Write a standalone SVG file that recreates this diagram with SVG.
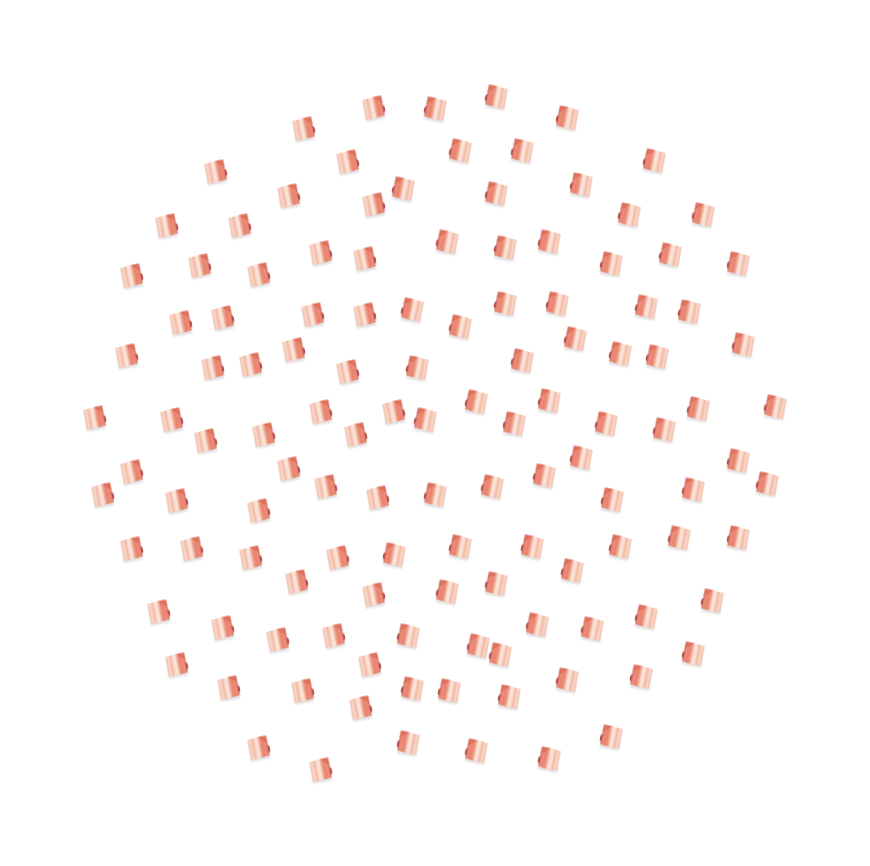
<svg xmlns="http://www.w3.org/2000/svg" width="870" height="866" viewBox="0 0 870 866">
<defs>
<filter id="s" x="-30%" y="-30%" width="160%" height="160%"><feGaussianBlur stdDeviation="1.2"/></filter>
<filter id="t" x="-20%" y="-20%" width="140%" height="140%"><feGaussianBlur stdDeviation="0.6"/></filter>
<linearGradient id="g" x1="0" y1="0" x2="1" y2="0">
<stop offset="0" stop-color="#f1b7a1"/><stop offset=".12" stop-color="#f8d9cc"/><stop offset=".26" stop-color="#f3b9a3"/><stop offset=".38" stop-color="#fae0d5"/><stop offset=".5" stop-color="#fbe4da"/><stop offset=".58" stop-color="#f2b09b"/><stop offset=".68" stop-color="#e98a75"/><stop offset=".8" stop-color="#e8836f"/><stop offset=".88" stop-color="#ec947e"/><stop offset="1" stop-color="#da6455"/>
</linearGradient>
<g id="r">
<g transform="translate(.5,.7)">
<path d="M-9.5 -6 L8 -10 L11.5 10.5 L-7.5 14Z" fill="#c8c8c8" opacity=".6" filter="url(#s)"/>
<g filter="url(#t)" transform="rotate(-11)">
<ellipse cx="9" cy="3" rx="2.1" ry="3.8" fill="#ab4045"/>
<path d="M-9.5 -9.5 Q0 -11 9.5 -10.5 L9.5 9.5 Q0 11 -9.5 10.5Z" fill="url(#g)"/>
<path d="M1 -10.6 L9.5 -10.5 L9.5 -3 Q5 -7 1 -10.6Z" fill="#d9604f" opacity=".6"/>
</g>
</g>
</g>
<use id="l" href="#r" transform="scale(-1,1)"/>
</defs>
<rect width="870" height="866" fill="#fff"/>
<g id="right">
<use href="#r" x="303" y="128"/><use href="#r" x="373" y="107"/><use href="#r" x="215" y="171"/><use href="#r" x="347" y="161"/><use href="#r" x="288" y="195"/><use href="#r" x="373" y="204"/><use href="#r" x="166" y="225"/><use href="#r" x="239" y="225"/><use href="#r" x="131" y="275"/><use href="#r" x="199" y="265"/><use href="#r" x="258" y="274"/><use href="#r" x="320" y="252"/><use href="#r" x="364" y="258"/><use href="#r" x="180" y="322"/><use href="#r" x="222" y="317"/><use href="#r" x="312" y="314"/><use href="#r" x="364" y="314"/><use href="#r" x="126" y="355"/><use href="#r" x="212" y="367"/><use href="#r" x="250" y="364"/><use href="#r" x="293" y="349"/><use href="#r" x="347" y="371"/><use href="#r" x="94" y="417"/><use href="#r" x="171" y="419"/><use href="#r" x="205" y="440"/><use href="#r" x="263" y="434"/><use href="#r" x="320" y="411"/><use href="#r" x="393" y="411"/><use href="#r" x="355" y="434"/><use href="#r" x="131" y="471"/><use href="#r" x="102" y="494"/><use href="#r" x="176" y="500"/><use href="#r" x="288" y="468"/><use href="#r" x="325" y="486"/><use href="#r" x="377" y="497"/><use href="#r" x="258" y="510"/><use href="#r" x="131" y="548"/><use href="#r" x="191" y="548"/><use href="#r" x="250" y="557"/><use href="#r" x="337" y="557"/><use href="#r" x="296" y="581"/><use href="#r" x="373" y="594"/><use href="#r" x="158" y="611"/><use href="#r" x="222" y="627"/><use href="#r" x="277" y="639"/><use href="#r" x="333" y="635"/><use href="#r" x="176" y="664"/><use href="#r" x="228" y="687"/><use href="#r" x="302" y="690"/><use href="#r" x="369" y="664"/><use href="#r" x="360" y="707"/><use href="#r" x="258" y="747"/><use href="#r" x="320" y="769"/>
</g>
<g id="left">
<use href="#l" transform="translate(436,108)"/><use href="#l" transform="translate(497,96)"/><use href="#l" transform="translate(568,117)"/><use href="#l" transform="translate(461,150)"/><use href="#l" transform="translate(523,150)"/><use href="#l" transform="translate(655,160)"/><use href="#l" transform="translate(404,188)"/><use href="#l" transform="translate(497,193)"/><use href="#l" transform="translate(582,184)"/><use href="#l" transform="translate(630,214)"/><use href="#l" transform="translate(704,214)"/><use href="#l" transform="translate(448,241)"/><use href="#l" transform="translate(506,247)"/><use href="#l" transform="translate(550,241)"/><use href="#l" transform="translate(612,263)"/><use href="#l" transform="translate(671,254)"/><use href="#l" transform="translate(739,263)"/><use href="#l" transform="translate(413,309)"/><use href="#l" transform="translate(461,326)"/><use href="#l" transform="translate(506,303)"/><use href="#l" transform="translate(558,303)"/><use href="#l" transform="translate(647,306)"/><use href="#l" transform="translate(690,311)"/><use href="#l" transform="translate(576,338)"/><use href="#l" transform="translate(621,353)"/><use href="#l" transform="translate(658,356)"/><use href="#l" transform="translate(744,344)"/><use href="#l" transform="translate(523,360)"/><use href="#l" transform="translate(418,367)"/><use href="#l" transform="translate(477,401)"/><use href="#l" transform="translate(550,400)"/><use href="#l" transform="translate(515,423)"/><use href="#l" transform="translate(426,419)"/><use href="#l" transform="translate(607,423)"/><use href="#l" transform="translate(665,429)"/><use href="#l" transform="translate(699,408)"/><use href="#l" transform="translate(776,406)"/><use href="#l" transform="translate(582,457)"/><use href="#l" transform="translate(545,475)"/><use href="#l" transform="translate(493,486)"/><use href="#l" transform="translate(436,494)"/><use href="#l" transform="translate(613,499)"/><use href="#l" transform="translate(694,489)"/><use href="#l" transform="translate(739,460)"/><use href="#l" transform="translate(768,483)"/><use href="#l" transform="translate(461,546)"/><use href="#l" transform="translate(533,546)"/><use href="#l" transform="translate(395,554)"/><use href="#l" transform="translate(621,546)"/><use href="#l" transform="translate(680,537)"/><use href="#l" transform="translate(739,537)"/><use href="#l" transform="translate(573,570)"/><use href="#l" transform="translate(448,591)"/><use href="#l" transform="translate(497,583)"/><use href="#l" transform="translate(713,600)"/><use href="#l" transform="translate(538,624)"/><use href="#l" transform="translate(593,628)"/><use href="#l" transform="translate(647,616)"/><use href="#l" transform="translate(409,635)"/><use href="#l" transform="translate(479,645)"/><use href="#l" transform="translate(501,654)"/><use href="#l" transform="translate(694,653)"/><use href="#l" transform="translate(642,676)"/><use href="#l" transform="translate(568,679)"/><use href="#l" transform="translate(413,688)"/><use href="#l" transform="translate(450,690)"/><use href="#l" transform="translate(510,696)"/><use href="#l" transform="translate(409,742)"/><use href="#l" transform="translate(477,750)"/><use href="#l" transform="translate(550,758)"/><use href="#l" transform="translate(612,736)"/>
</g>
</svg>
